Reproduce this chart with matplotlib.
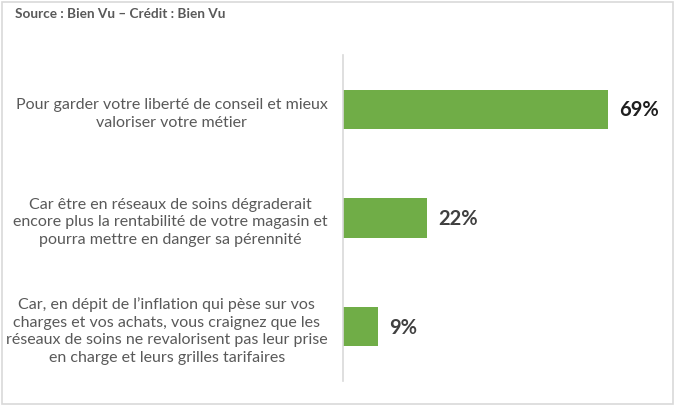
import matplotlib.pyplot as plt
import matplotlib.patches as patches

# --- data ---
categories = [
    "Pour garder votre liberté de conseil et mieux\nvaloriser votre métier",
    "Car être en réseaux de soins dégraderait\nencore plus la rentabilité de votre magasin et\npourra mettre en danger sa pérennité",
    "Car, en dépit de l\u2019inflation qui pèse sur vos\ncharges et vos achats, vous craignez que les\nréseaux de soins ne revalorisent pas leur prise\nen charge et leurs grilles tarifaires",
]
values = [69, 22, 9]
value_labels = ["69%", "22%", "9%"]
source_text = "Source : Bien Vu \u2013 Crédit : Bien Vu"

# --- style ---
W, H = 675, 406
BAR_COLOR = "#70AD47"
GRID_GREY = "#D9D9D9"
TEXT_GREY = "#595959"
FONT = ["Lato", "DejaVu Sans"]

plt.rcParams["font.family"] = FONT

fig = plt.figure(figsize=(W / 100, H / 100), dpi=100)

# cadre gris autour du graphique
fig.patches.append(patches.Rectangle(
    (1.5 / W, 1.5 / H), (W - 4) / W, (H - 4) / H,
    transform=fig.transFigure, fill=False, edgecolor=GRID_GREY, linewidth=1.2))

# axes : ligne verticale de x=343 à y 56..382
left, right = 343, 660
top, bottom = 56, 382
ax = fig.add_axes([left / W, (H - bottom) / H, (right - left) / W, (bottom - top) / H])

y = list(range(len(values)))
ax.barh(y, values, height=0.36, color=BAR_COLOR, zorder=2)
ax.set_ylim(len(values) - 0.5, -0.5)
ax.set_xlim(0, (right - left) / (265 / 69))

ax.set_yticks(y)
ax.set_yticklabels(categories, fontsize=11.5, color=TEXT_GREY,
                   multialignment="center", linespacing=1.35)
ax.tick_params(axis="y", length=0, pad=11)
ax.set_xticks([])

for s in ["top", "right", "bottom"]:
    ax.spines[s].set_visible(False)
ax.spines["left"].set_color(GRID_GREY)
ax.spines["left"].set_linewidth(1.2)

label_colors = ["#1F1F1F", "#404040", "#404040"]
for yi, v, lab, c in zip(y, values, value_labels, label_colors):
    ax.annotate(lab, (v, yi), xytext=(8, 0), textcoords="offset points",
                ha="left", va="center", fontsize=14.5, fontweight="bold", color=c)

fig.text(15 / W, 1 - 14 / H, source_text, fontsize=9.8, fontweight="bold",
         color=TEXT_GREY, ha="left", va="center")

fig.savefig("out.png", dpi=100, facecolor="white")
